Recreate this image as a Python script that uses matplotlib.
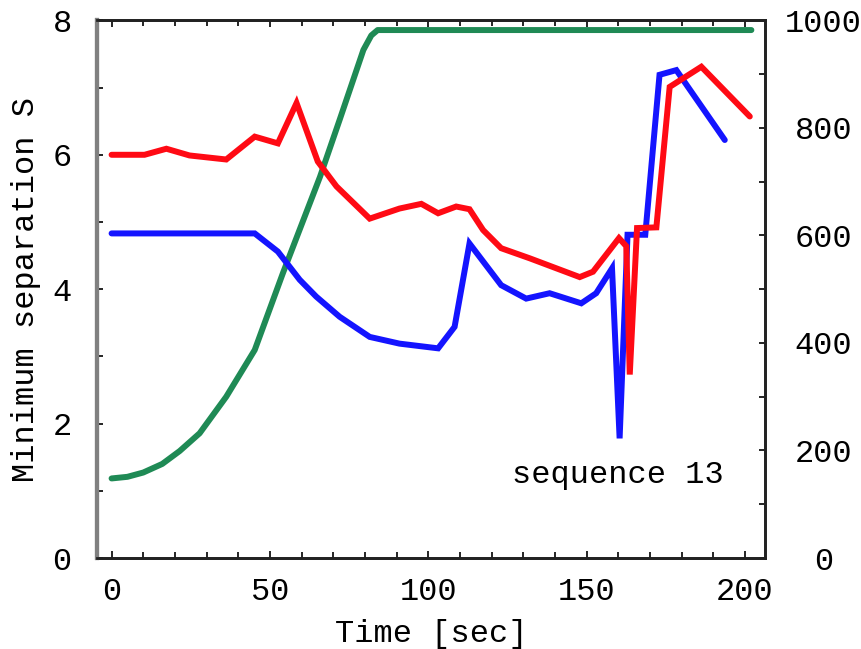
import matplotlib
matplotlib.use("Agg")
import matplotlib.pyplot as plt
from matplotlib.ticker import MultipleLocator

plt.rcParams['font.family'] = ['Liberation Mono', 'DejaVu Sans Mono']

# Data
red_t = [0, 10.4, 17.3, 24.6, 36.2, 45.2, 52.5, 58.4, 65.1, 71.0, 81.5, 90.9, 97.8,
         103.1, 108.8, 113.0, 117.3, 123.0, 132.0, 147.8, 152.0, 160.2, 162.5, 163.6,
         165.9, 172.0, 176.2, 186.2, 201.5]
red_s = [6.0, 6.0, 6.09, 5.99, 5.93, 6.27, 6.17, 6.77, 5.90, 5.53, 5.05, 5.2, 5.27,
         5.13, 5.23, 5.19, 4.88, 4.61, 4.46, 4.18, 4.26, 4.76, 4.64, 2.73,
         4.91, 4.92, 7.01, 7.31, 6.57]

blue_t = [0, 45.2, 52.5, 59.4, 64.6, 72.0, 81.5, 90.9, 103.1, 108.3, 113.0, 123.0,
          130.9, 138.3, 148.3, 153.0, 158.0, 160.4, 162.9, 168.5, 173.0, 178.3, 193.6]
blue_s = [4.83, 4.83, 4.56, 4.14, 3.89, 3.59, 3.29, 3.19, 3.12, 3.44, 4.68, 4.06,
          3.86, 3.94, 3.79, 3.94, 4.31, 1.78, 4.81, 4.81, 7.19, 7.26, 6.22]

green_t = [0, 5, 10, 16, 21.5, 27.8, 36.2, 45.2, 54.1, 65.8, 72.0, 79.5, 82.0, 84.0, 202.0]
green_v = [148, 151, 159, 175, 199, 232, 300, 387, 530, 709, 815, 945, 972, 982, 982]

annotation = "sequence 13"
x_label = "Time [sec]"
y_label = "Minimum separation S"

fig = plt.figure(figsize=(8.61, 6.49), dpi=100)
ax = fig.add_axes([0.1123, 0.1402, 0.7762, 0.8284])
ax2 = ax.twinx()

GREEN = '#1f8a55'
BLUE = '#1414ff'
RED = '#ff0a14'
LW = 4.3

ax2.plot(green_t, green_v, color=GREEN, lw=LW, solid_joinstyle='round', solid_capstyle='round', zorder=1)
ax.plot(blue_t, blue_s, color=BLUE, lw=LW, solid_joinstyle='miter', solid_capstyle='round', zorder=2)
ax.plot(red_t, red_s, color=RED, lw=LW, solid_joinstyle='miter', solid_capstyle='round', zorder=3)

ax.set_zorder(ax2.get_zorder() + 1)
ax.patch.set_visible(False)

ax.set_xlim(-4.7, 206.3)
ax.set_ylim(0, 8)
ax2.set_ylim(0, 1000)

ax.xaxis.set_major_locator(MultipleLocator(50))
ax.xaxis.set_minor_locator(MultipleLocator(10))
ax.yaxis.set_major_locator(MultipleLocator(2))
ax.yaxis.set_minor_locator(MultipleLocator(1))
ax2.yaxis.set_major_locator(MultipleLocator(200))
ax2.yaxis.set_minor_locator(MultipleLocator(100))

FS = 23
ax.tick_params(axis='x', which='both', direction='in', top=True, bottom=True,
               labelsize=FS, pad=14, width=1.2, color='black')
ax.tick_params(axis='x', which='major', length=5)
ax.tick_params(axis='x', which='minor', length=4)
ax.tick_params(axis='y', which='both', direction='in', left=True, right=False,
               labelsize=FS, pad=18, width=1.2, length=4.5)
ax2.tick_params(axis='y', which='both', direction='in', right=True, left=False,
                labelsize=FS, width=1.2, length=4.5)
for lbl in ax2.get_yticklabels():
    lbl.set_horizontalalignment('center')
ax2.tick_params(axis='y', pad=42)

for a in (ax, ax2):
    for side in ('top', 'bottom', 'right'):
        a.spines[side].set_linewidth(2)
        a.spines[side].set_color('#222222')
    a.spines['left'].set_linewidth(3)
    a.spines['left'].set_color('#808080')
ax2.spines['right'].set_color('#333333')

ax.set_xlabel(x_label, fontsize=FS, labelpad=8)
ax.set_ylabel(y_label, fontsize=FS, labelpad=8)

ax.text(159.8, 1.24, annotation, fontsize=FS, ha='center', va='center')

fig.savefig('out.png', dpi=100)
